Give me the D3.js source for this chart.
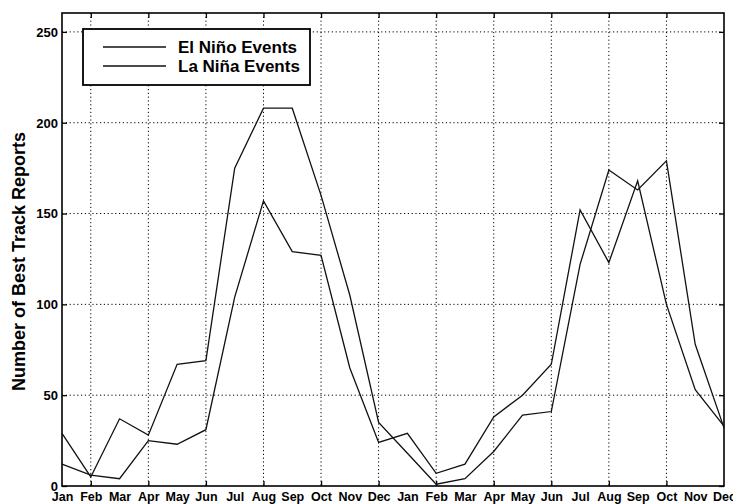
<!DOCTYPE html>
<html>
<head>
<meta charset="utf-8">
<script src="https://cdn.jsdelivr.net/npm/d3@7"></script>
<style>
  html, body { margin: 0; padding: 0; background: #fff; }
  svg { display: block; }
  text { font-family: "Liberation Sans", Arial, Helvetica, sans-serif; font-weight: bold; fill: #000; }
</style>
</head>
<body>
<svg id="chart" width="733" height="504"></svg>
<script>
// ---- data ----
const months = ["Jan","Feb","Mar","Apr","May","Jun","Jul","Aug","Sep","Oct","Nov","Dec",
                "Jan","Feb","Mar","Apr","May","Jun","Jul","Aug","Sep","Oct","Nov","Dec"];
const elNino = [29, 5, 37, 28, 67, 69, 175, 208, 208, 160, 105, 35,
                18, 1, 4, 19, 39, 41, 122, 174, 163, 179, 78, 32];
const laNina = [12, 6, 4, 25, 23, 31, 104, 157, 129, 127, 65, 24,
                29, 7, 12, 38, 50, 67, 152, 123, 168, 100, 53, 33];
const seriesNames = ["El Niño Events", "La Niña Events"];
const yTicks = [0, 50, 100, 150, 200, 250];
const xMajorTicks = [1, 3, 5, 7, 9, 11, 13, 15, 17, 19, 21];
const yTitle = "Number of Best Track Reports";

// ---- layout ----
const L = 62, R = 724, T = 13, B = 486;
const svg = d3.select("#chart");

const x = d3.scaleLinear().domain([0, months.length - 1]).range([L, R]);
const y = d3.scaleLinear().domain([0, 260.4]).range([B, T]);

// grid
const grid = svg.append("g").attr("stroke", "#000").attr("stroke-width", 1)
  .attr("stroke-dasharray", "1.2,2.6");
grid.selectAll("line.v").data(xMajorTicks).join("line")
  .attr("x1", d => x(d)).attr("x2", d => x(d)).attr("y1", T).attr("y2", B);
grid.selectAll("line.h").data(yTicks.filter(d => d > 0)).join("line")
  .attr("x1", L).attr("x2", R).attr("y1", d => y(d)).attr("y2", d => y(d));

// axes
const axLeft = svg.append("g").attr("transform", `translate(${L},0)`)
  .call(d3.axisLeft(y).tickValues(yTicks).tickSizeInner(-5).tickSizeOuter(0).tickPadding(4));
axLeft.selectAll("text").style("font-size", "13px").attr("dy", "0.33em");

const axRight = svg.append("g").attr("transform", `translate(${R},0)`)
  .call(d3.axisRight(y).tickValues(yTicks).tickSizeInner(-5).tickSizeOuter(0).tickFormat(""));

const axBottomLabels = svg.append("g").attr("transform", `translate(0,${B})`)
  .call(d3.axisBottom(x).tickValues(d3.range(months.length)).tickSize(0).tickFormat(i => months[i]));
axBottomLabels.selectAll("text").style("font-size", "12.5px").attr("y", 15).attr("dy", 0);
axBottomLabels.select(".domain").remove();

const axBottomTicks = svg.append("g").attr("transform", `translate(0,${B})`)
  .call(d3.axisBottom(x).tickValues(xMajorTicks).tickSizeInner(-5).tickSizeOuter(0).tickFormat(""));
const axTopTicks = svg.append("g").attr("transform", `translate(0,${T})`)
  .call(d3.axisTop(x).tickValues(xMajorTicks).tickSizeInner(-5).tickSizeOuter(0).tickFormat(""));

svg.selectAll(".tick line").attr("stroke", "#000").attr("stroke-width", 1.3).attr("stroke-dasharray", null);
svg.selectAll(".domain").remove();

// frame
svg.append("rect").attr("x", L).attr("y", T).attr("width", R - L).attr("height", B - T)
  .attr("fill", "none").attr("stroke", "#000").attr("stroke-width", 1.6);

// lines
const line = d3.line().x((d, i) => x(i)).y(d => y(d));
[elNino, laNina].forEach(s => {
  svg.append("path").datum(s).attr("d", line)
    .attr("fill", "none").attr("stroke", "#111").attr("stroke-width", 1.3)
    .attr("stroke-linejoin", "miter");
});

// legend
const leg = svg.append("g");
leg.append("rect").attr("x", 83).attr("y", 29).attr("width", 227).attr("height", 56)
  .attr("fill", "#fff").attr("stroke", "#000").attr("stroke-width", 1.8);
seriesNames.forEach((name, i) => {
  const ly = 47 + i * 19;
  leg.append("line").attr("x1", 103).attr("x2", 166).attr("y1", ly).attr("y2", ly)
    .attr("stroke", "#111").attr("stroke-width", 1.3);
  leg.append("text").attr("x", 178).attr("y", ly + 6).style("font-size", "17px").text(name);
});

// y title
svg.append("text")
  .attr("transform", `translate(25,${(T + B) / 2 + 12}) rotate(-90)`)
  .attr("text-anchor", "middle")
  .style("font-size", "18px")
  .text(yTitle);
</script>
</body>
</html>
